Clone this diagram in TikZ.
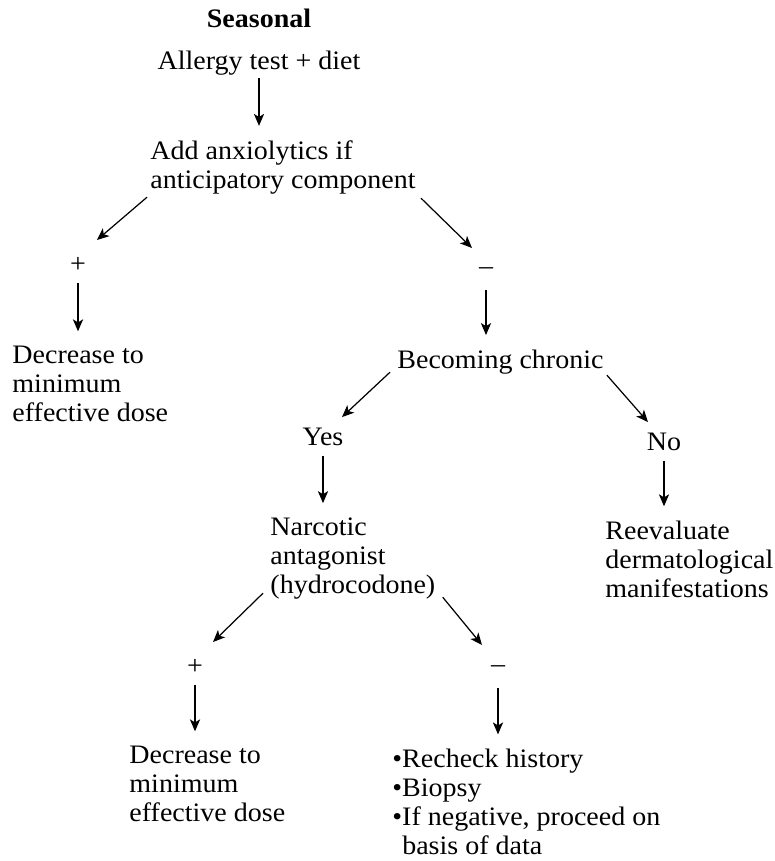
\documentclass[tikz,border=0pt]{standalone}
\usepackage{fontspec}
\setmainfont{Liberation Serif}[FakeStretch=1.05]
\usepackage{tikz}
\usetikzlibrary{arrows.meta,calc,positioning}

\begin{document}
\begin{tikzpicture}[
    x=0.45pt, y=-0.45pt,
    >={Stealth[length=5.4pt,width=4.6pt,inset=1.4pt]},
    every node/.style={font=\fontsize{12}{13}\selectfont, inner sep=0pt},
    txt/.style={anchor=base west, align=left},
    ctr/.style={anchor=base},
    sign/.style={anchor=center},
    link/.style={->, line width=0.55pt},
    down/.style={link, shorten <=4.5pt, shorten >=6.3pt}
    ]
    \useasboundingbox (0,0) rectangle (774,861);
    % Top
    \node[ctr, font=\fontsize{12}{13}\selectfont\bfseries] (title) at (259,27) {Seasonal};
    \node[ctr] (allergy) at (259,69) {Allergy test + diet};
    \node[txt] (anxio) at (150,188) {Add anxiolytics if\\anticipatory component};
    \draw[link, shorten <=1.4pt, shorten >=6.3pt] (allergy.south) -- (allergy.south |- anxio.north);
    % Anxiolytics +/-
    \node[sign] (plusA) at (78,265) {+};
    \node[sign] (minusA) at (486,271) {–};
    \draw[link] ($(anxio.south west)+(-3,3)$) -- ($(plusA)+(19,-25)$);
    \draw[link] ($(anxio.south east)+(5,4)$) -- ($(minusA)+(-14,-23)$);
    % Plus branch
    \node[txt] (decA) at (12,421) {Decrease to\\minimum\\effective dose};
    \draw[down] (plusA.south) -- (plusA.south |- decA.north);
    % Minus branch
    \node[txt] (chronic) at (397,368) {Becoming chronic};
    \draw[down, shorten <=6.7pt] (minusA.south) -- (minusA.south |- chronic.north);
    \node[ctr] (yes) at (323,445) {Yes};
    \node[ctr] (no) at (664,450) {No};
    \draw[link] ($(chronic.south west)+(-7,-2)$) -- ($(yes.north)+(19,-10)$);
    \draw[link] ($(chronic.south east)+(3,1)$) -- ($(no.north)+(-16,-10)$);
    % Yes / No
    \node[txt] (narc) at (270,593) {Narcotic\\antagonist\\(hydrocodone)};
    \draw[down] (yes.south) -- (yes.south |- narc.north);
    \node[txt] (reeval) at (605,597) {Reevaluate\\dermatological\\manifestations};
    \draw[down] (no.south) -- (no.south |- reeval.north);
    % Narcotic +/-
    \node[sign] (plusB) at (195,667) {+};
    \node[sign] (minusB) at (498,669) {–};
    \draw[link] ($(narc.south west)+(-7,-6)$) -- ($(plusB)+(18,-25)$);
    \draw[link] ($(narc.south east)+(7,-2)$) -- ($(minusB)+(-16,-24)$);
    % Last row
    \node[txt] (decB) at (129,821) {Decrease to\\minimum\\effective dose};
    \draw[down] (plusB.south) -- (plusB.south |- decB.north);
    \node[txt] (recheck) at (392,854) {\textbullet Recheck history\\\textbullet Biopsy\\\textbullet If negative, proceed on\\\phantom{\textbullet}basis of data};
    \draw[down, shorten <=6.7pt] (minusB.south) -- (minusB.south |- recheck.north);
\end{tikzpicture}
\end{document}
